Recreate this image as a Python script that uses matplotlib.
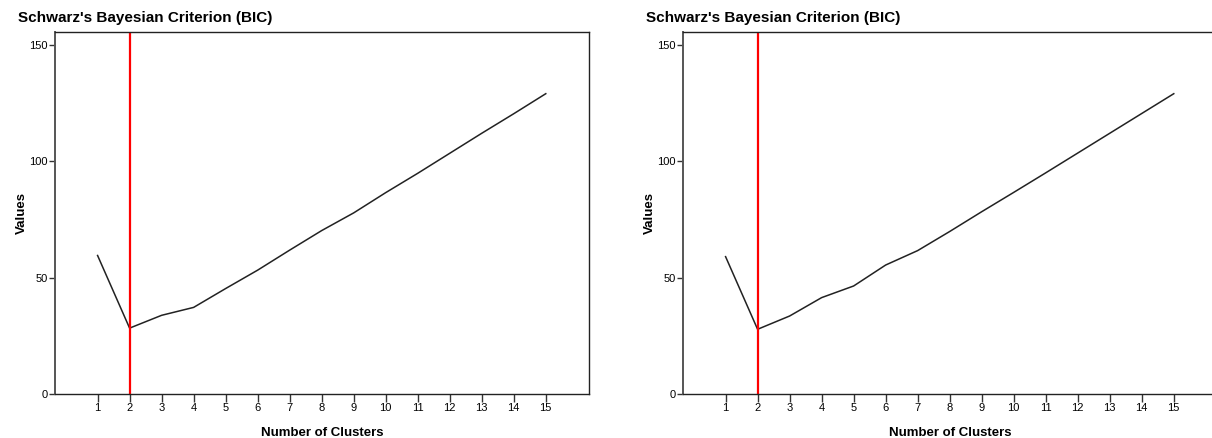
import matplotlib
matplotlib.use("Agg")
import matplotlib.pyplot as plt

clusters = list(range(1, 16))
bic_left = [59.5, 28.3, 33.8, 37.2, 45.3, 53.2, 61.8, 70.2, 77.8, 86.5, 94.8, 103.4, 112.0, 120.4, 129.0]
bic_right = [59.0, 27.8, 33.5, 41.4, 46.4, 55.4, 61.6, 69.8, 78.3, 86.6, 95.0, 103.5, 112.0, 120.5, 129.0]
best_k = 2
yticks = [0, 50, 100, 150]

plt.rcParams["font.family"] = ["Liberation Sans", "DejaVu Sans"]

fig = plt.figure(figsize=(12.12, 4.38), dpi=100)
W, H = 1212.0, 438.0


def panel(left_px, values, title_x):
    ax = fig.add_axes([left_px / W, 44 / H, 534 / W, 362 / H])
    ax.plot(clusters, values, color="#222222", lw=1.1)
    ax.axvline(best_k, color="#ff0000", lw=1.6)
    ax.set_xlim(-0.33, 16.35)
    ax.set_ylim(0, 155.5)
    ax.set_xticks(clusters)
    ax.set_yticks(yticks)
    ax.tick_params(axis="both", direction="out", labelsize=8, color="#333333", width=1)
    ax.tick_params(axis="x", length=6, pad=0.5)
    ax.tick_params(axis="y", length=4, pad=1)
    for s in ax.spines.values():
        s.set_color("#222222")
        s.set_linewidth(1)
    ax.spines["left"].set_color("#555555")
    ax.spines["left"].set_linewidth(1.4)
    ax.set_xlabel("Number of Clusters", fontsize=9.5, fontweight="bold", labelpad=10)
    ax.set_ylabel("Values", fontsize=9.5, fontweight="bold", labelpad=1)
    fig.text(title_x / W, 1 - 18 / H, "Schwarz's Bayesian Criterion (BIC)",
             fontsize=11, fontweight="bold", ha="left", va="center")
    return ax


panel(55, bic_left, 18)
panel(683, bic_right, 646)

fig.savefig("out.png", dpi=100)
